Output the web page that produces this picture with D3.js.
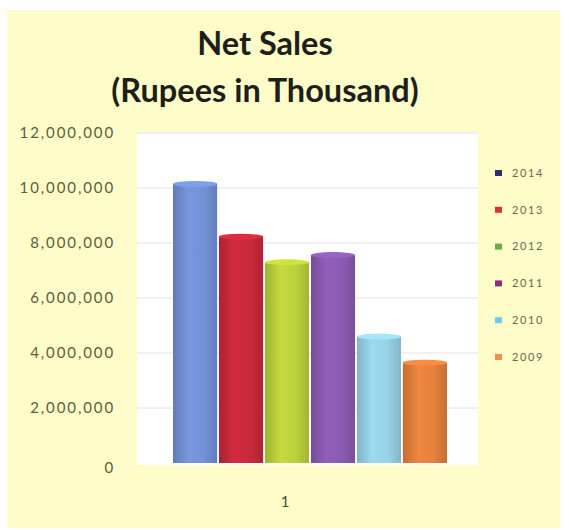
<!DOCTYPE html>
<html>
<head>
<meta charset="utf-8">
<script src="https://cdn.jsdelivr.net/npm/d3@7"></script>
<style>
  html, body { margin: 0; padding: 0; background: #ffffff; }
  svg { display: block; }
</style>
</head>
<body>
<svg id="chart" width="569" height="530"></svg>
<script>
// Net sales by year, rupees in thousand
const years = ["2014", "2013", "2012", "2011", "2010", "2009"];
const netSales = [10150000, 8230000, 7300000, 7560000, 4600000, 3650000];
const barColors = ["#7391d6", "#c9293b", "#bcd13a", "#8b5bb3", "#97d2e6", "#e6813c"];
const legendColors = ["#2f2a72", "#d3323c", "#6cab4a", "#8b2d7c", "#72c8ec", "#f08f4c"];
const yTicks = [0, 2000000, 4000000, 6000000, 8000000, 10000000, 12000000];
const categoryLabel = "1";

const svg = d3.select("#chart");
const font = "Lato, 'Open Sans', sans-serif";

// pale yellow panel
svg.append("rect")
  .attr("x", 7).attr("y", 10).attr("width", 553).attr("height", 518)
  .attr("fill", "#fefcc9");

// title
const title = svg.append("text")
  .attr("text-anchor", "middle")
  .attr("font-family", font).attr("font-weight", "bold")
  .attr("font-size", 32.5).attr("fill", "#1f1f1a");
title.append("tspan").attr("x", 265).attr("y", 55).text("Net Sales");
title.append("tspan").attr("x", 265).attr("y", 102).text("(Rupees in Thousand)");

// plot area
const plot = { left: 137, right: 478, top: 132, bottom: 465 };
svg.append("rect")
  .attr("x", plot.left).attr("y", plot.top)
  .attr("width", plot.right - plot.left).attr("height", plot.bottom - plot.top)
  .attr("fill", "#ffffff");

const y = d3.scaleLinear().domain([0, 12000000]).range([463, 133]);
const x = d3.scaleBand().domain(years).range([173, 447]).paddingInner(0.04);

// gridlines
svg.append("g").selectAll("line")
  .data(yTicks.filter(t => t > 0))
  .join("line")
  .attr("x1", plot.left).attr("x2", plot.right)
  .attr("y1", d => y(d)).attr("y2", d => y(d))
  .attr("stroke", "#e2e2e2").attr("stroke-width", 1);

// y axis labels
const fmt = d3.format(",");
const yAxis = d3.axisLeft(y).tickValues(yTicks).tickFormat(fmt).tickSize(0).tickPadding(0);
const gAxis = svg.append("g").attr("transform", "translate(115,0)").call(yAxis);
gAxis.select(".domain").remove();
gAxis.selectAll("text")
  .attr("font-family", font).attr("font-size", 15).attr("fill", "#5e5c3a")
  .attr("letter-spacing", "1.9px")
  .attr("dy", "0.32em");
gAxis.selectAll(".tick").filter(d => d === 0).select("text").attr("y", 5);

// cylinder gradients
const defs = svg.append("defs");
barColors.forEach((c, i) => {
  const g = defs.append("linearGradient").attr("id", "cyl" + i)
    .attr("x1", "0%").attr("x2", "100%").attr("y1", "0%").attr("y2", "0%");
  const base = d3.color(c);
  g.append("stop").attr("offset", "0%").attr("stop-color", base.darker(0.45));
  g.append("stop").attr("offset", "35%").attr("stop-color", base.brighter(0.12));
  g.append("stop").attr("offset", "70%").attr("stop-color", base);
  g.append("stop").attr("offset", "100%").attr("stop-color", base.darker(0.4));
});

const bars = svg.append("g").selectAll("g").data(years).join("g");
bars.append("rect")
  .attr("x", d => x(d))
  .attr("width", x.bandwidth())
  .attr("y", (d, i) => y(netSales[i]))
  .attr("height", (d, i) => y(0) - y(netSales[i]))
  .attr("fill", (d, i) => `url(#cyl${i})`);
// cap of each cylinder
bars.append("ellipse")
  .attr("cx", d => x(d) + x.bandwidth() / 2)
  .attr("cy", (d, i) => y(netSales[i]))
  .attr("rx", x.bandwidth() / 2)
  .attr("ry", 3)
  .attr("fill", (d, i) => d3.color(barColors[i]).brighter(0.25));

// category label
svg.append("text")
  .attr("x", 285).attr("y", 507).attr("text-anchor", "middle")
  .attr("font-family", font).attr("font-size", 15).attr("fill", "#4a4a3a")
  .text(categoryLabel);

// legend
const legend = svg.append("g").selectAll("g").data(years).join("g")
  .attr("transform", (d, i) => `translate(495, ${173 + i * 36.8})`);
legend.append("rect")
  .attr("x", 0).attr("y", -3).attr("width", 7).attr("height", 6)
  .attr("fill", (d, i) => legendColors[i]);
legend.append("text")
  .attr("x", 17).attr("y", 0).attr("dy", "0.35em")
  .attr("font-family", font).attr("font-size", 11).attr("fill", "#6a6a50")
  .attr("letter-spacing", "1.6px")
  .text(d => d);
</script>
</body>
</html>
